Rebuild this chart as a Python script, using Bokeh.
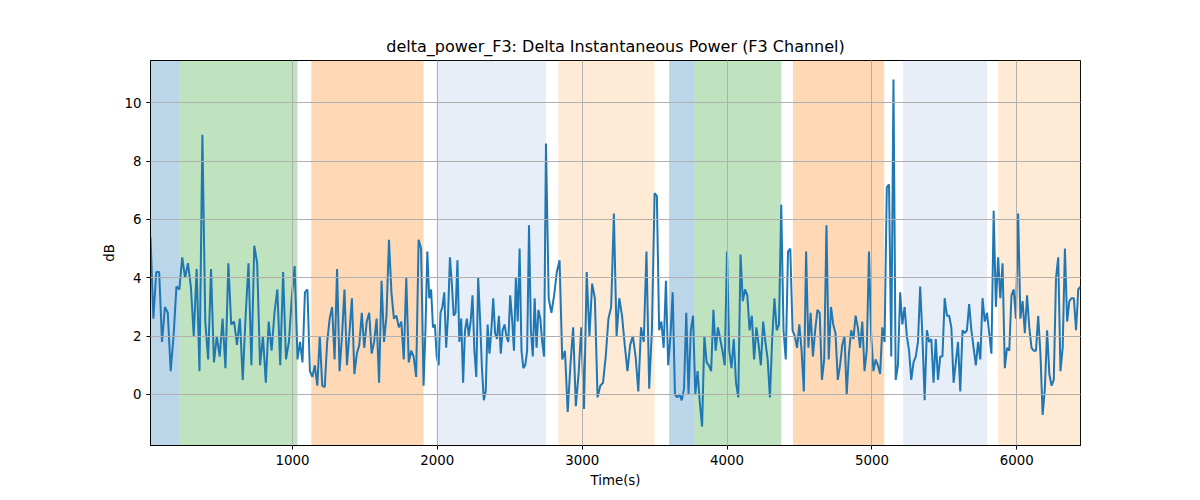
import numpy as np
from bokeh.plotting import figure
from bokeh.models import BoxAnnotation, FixedTicker
from bokeh.embed import file_html
from bokeh.resources import INLINE

seg_bounds = [20, 1035, 1905, 2750, 3500, 4780, 6440]
seg_values = [
    [5.4,2.6,4.2,4.2,1.8,3.0,2.8,0.8,2.0,3.7,3.6,4.7,4.0,4.5,3.7,2.0,4.3,0.8,8.9,2.5,1.2,4.3,1.1,2.0,1.3,2.6,0.9,4.5,2.4,2.5,1.7,2.6,0.5,2.7,4.5,1.0,5.1,4.5,1.0,2.0,0.4,2.5,1.5,2.8,3.6,1.0,4.2,1.2,1.8,3.3,4.4],
    [1.2,1.8,1.1,3.5,3.6,0.8,0.6,1.0,0.3,2.0,0.3,0.25,1.8,2.6,3.0,1.2,4.3,0.8,2.0,3.6,1.0,2.1,3.3,0.7,1.4,1.7,2.8,1.6,2.5,2.8,1.4,1.8,2.6,0.4,3.9,1.8,2.7,5.3,3.5,2.6,2.7,2.3,2.5,1.2,4.0,1.1,1.5,1.3,0.6,5.3,5.0],
    [0.3,2.2,4.9,3.3,3.6,2.3,2.4,1.3,1.0,2.8,3.0,3.5,1.6,2.7,4.7,3.8,2.7,2.8,4.6,1.8,2.6,0.4,2.2,2.6,2.0,2.5,3.4,1.5,0.6,4.0,2.6,0.9,-0.2,0.1,2.4,1.4,2.2,3.3,2.1,1.9,2.7,1.4,2.2,2.4,2.0,1.8,3.4,2.6,1.5,4.0,2.5,5.0,1.5,0.9,1.0,1.5,5.8,2.2,1.3,3.3,1.6,2.9,2.6,1.8,1.3],
    [8.6,3.3,2.8,3.4,4.2,4.6,1.2,1.5,-0.6,1.0,2.3,-0.4,0.7,2.3,-0.5,4.2,2.0,3.8,3.3,-0.1,0.3,0.4,1.3,2.6,3.0,6.2,2.0,3.3,2.7,1.7,0.8,1.7,2.0,1.3,0.1,2.3,1.8,4.9,0.2,2.2],
    [6.9,6.8,2.2,2.5,1.6,3.9,1.0,2.0,3.5,0.0,-0.1,0.0,-0.2,0.2,2.8,0.0,2.2,2.7,0.0,0.8,-0.3,-1.1,2.0,1.1,1.0,0.8,2.9,1.5,2.3,1.9,1.5,1.0,4.9,1.5,0.9,1.9,0.4,-0.1,4.8,3.2,3.6,3.4,2.2,2.7,1.2,2.3,1.7,1.0,2.5,1.8,1.2,-0.1,1.9,3.3,2.2,2.4,6.5,2.2,1.2,4.9,5.0,2.2,2.0,1.6,2.4,1.5,0.1,4.9,1.6,2.8,1.3,2.2,2.9,2.8,0.5,1.2,5.8,1.2,3.0,2.4,2.1,0.5],
    [1.0,1.7,2.0,0.0,1.4,2.2,1.9,2.7,2.3,1.6,2.5,0.8,1.5,4.9,2.0,0.8,1.2,1.0,0.7,2.3,1.8,7.1,7.2,1.3,10.8,0.5,1.0,3.5,2.4,3.0,2.0,1.5,0.5,1.1,1.3,1.8,3.7,2.0,-0.2,2.2,1.8,1.9,0.4,1.9,0.5,1.3,1.3,3.3,2.7,2.7,2.3,0.4,1.1,1.8,0.1,2.2,2.1,2.2,3.1,2.2,1.6,1.0,1.8,1.2,3.3,2.5,2.8,2.1,1.4,6.3,3.0,4.7,3.3,4.5,0.9,1.6,1.5,3.4,3.6,2.6,6.2,2.6,3.2,2.1,3.4,2.3,1.6,1.5,1.5,2.7,1.4,-0.7,0.2,2.2,0.7,0.3,0.5,4.0,4.7,0.8,1.6,5.0,2.5,3.2,3.3,3.3,2.2,3.6,3.7],
]

span_starts = [20, 220, 1130, 1995, 2835, 3600, 3775, 4455, 5215, 5870]
span_ends = [220, 1035, 1905, 2750, 3500, 3775, 4375, 5085, 5795, 6440]
span_colors = ["#1f77b4", "#2ca02c", "#ff7f0e", "#aec7e8", "#ffbb78",
               "#1f77b4", "#2ca02c", "#ff7f0e", "#aec7e8", "#ffbb78"]

xs, ys = [], []
for i, vals in enumerate(seg_values):
    n = len(vals)
    t = np.linspace(seg_bounds[i], seg_bounds[i + 1], n, endpoint=(i == len(seg_values) - 1))
    xs.extend(t.tolist())
    ys.extend(vals)

p = figure(width=1192, height=492, output_backend="svg", toolbar_location=None,
           x_range=(20, 6440), y_range=(-1.75, 11.45),
           title="delta_power_F3: Delta Instantaneous Power (F3 Channel)",
           x_axis_label="Time(s)", y_axis_label="dB",
           min_border_left=150, min_border_right=112, min_border_top=60, min_border_bottom=47)
p.title.align = "center"
p.title.text_font = "DejaVu Sans"
p.title.text_font_size = "12pt"
p.title.text_font_style = "normal"
p.title.text_color = "black"

for s, e, c in zip(span_starts, span_ends, span_colors):
    p.add_layout(BoxAnnotation(left=s, right=e, fill_color=c, fill_alpha=0.3, line_alpha=0, level="underlay"))

p.line(xs, ys, line_color="#1f77b4", line_width=2)

p.xaxis.ticker = FixedTicker(ticks=[1000, 2000, 3000, 4000, 5000, 6000])
p.yaxis.ticker = FixedTicker(ticks=[0, 2, 4, 6, 8, 10])
for ax in (p.xaxis, p.yaxis):
    ax.major_label_text_font = "DejaVu Sans"
    ax.major_label_text_font_size = "10pt"
    ax.major_label_text_color = "black"
    ax.axis_label_text_font = "DejaVu Sans"
    ax.axis_label_text_font_size = "10pt"
    ax.axis_label_text_font_style = "normal"
    ax.axis_label_text_color = "black"
    ax.axis_line_color = "black"
    ax.major_tick_line_color = "black"
    ax.minor_tick_line_color = None
    ax.major_tick_in = 0
    ax.major_tick_out = 4
p.grid.grid_line_color = "#b0b0b0"
p.grid.grid_line_alpha = 1.0
p.grid.level = "overlay"
p.outline_line_color = "black"
p.outline_line_width = 1

open("out.html", "w").write(file_html(p, INLINE))
